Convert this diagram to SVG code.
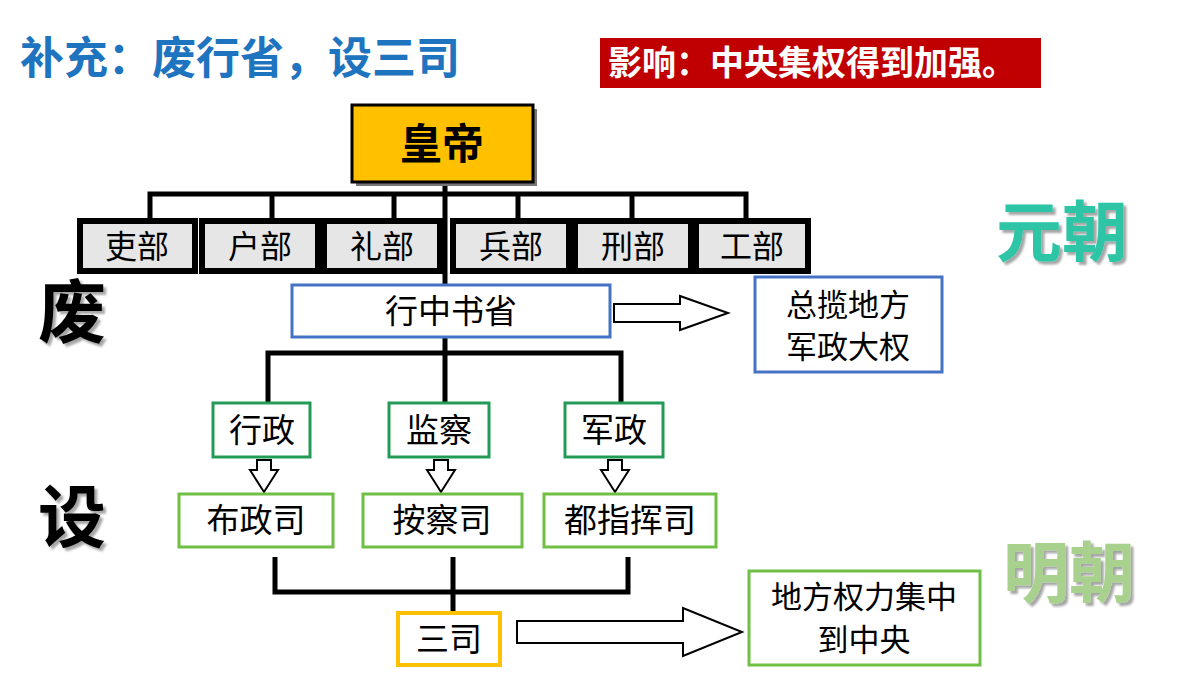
<svg xmlns="http://www.w3.org/2000/svg" width="1200" height="675" viewBox="0 0 1200 675">
<defs><filter id="sh" x="-10%" y="-10%" width="130%" height="130%"><feDropShadow dx="3" dy="3" stdDeviation="1" flood-color="#000" flood-opacity="0.35"/></filter></defs>
<style>
text{font-family:"Noto Sans CJK SC","Noto Sans",sans-serif;text-anchor:middle;fill:#000}
.dept rect{fill:#e6e6e6;stroke:#000;stroke-width:6}
.dept text{font-size:32px}
.ln{stroke:#000;stroke-width:5;fill:none}
.ha{fill:#fff;stroke:#000;stroke-width:2}
.g1 rect{fill:#fff;stroke:#239B56;stroke-width:3}
.g2 rect{fill:#fff;stroke:#70BF45;stroke-width:3}
.b rect{fill:#fff;stroke:#4472C4;stroke-width:3}
.big{font-size:33px}
.two{font-size:31px}
</style>
<rect width="1200" height="675" fill="#fff"/>
<text x="20" y="74" style="text-anchor:start;font-size:44px;font-weight:bold;fill:#1F74BF">补充：废行省，设三司</text>
<g id="impact"><rect x="600" y="38" width="441" height="50" fill="#C00000"/>
<text x="608" y="75" style="text-anchor:start;font-size:34px;font-weight:bold;fill:#fff">影响：中央集权得到加强。</text></g>
<text x="1062" y="256" filter="url(#sh)" style="font-size:66px;font-weight:bold;fill:#2EC4A6">元朝</text>
<text x="1069" y="597" filter="url(#sh)" style="font-size:66px;font-weight:bold;fill:#A9D18E">明朝</text>
<text x="72" y="337" filter="url(#sh)" style="font-size:68px;font-weight:bold">废</text>
<text x="72" y="542" filter="url(#sh)" style="font-size:68px;font-weight:bold">设</text>
<g id="connectors">
<path class="ln" d="M150 218V194H746V218M272 194V218M394 194V218M518 194V218M632 194V218M445 182V285"/>
<path class="ln" d="M445 337V403M268 403V353H621V403"/>
<path class="ln" d="M275 557V592H628V557M453 557V612"/>
<path class="ha" d="M614 304H680V296L728 313L680 330V322H614Z"/>
<path class="ha" d="M517 621H683V608L742 632L683 656V643H517Z"/>
<path class="ha" d="M257 460H271V470H278L264 492L250 470H257Z"/>
<path class="ha" d="M434 460H448V470H455L441 492L427 470H434Z"/>
<path class="ha" d="M608 460H622V470H629L615 492L601 470H608Z"/>
</g>
<g id="emperor"><rect x="356" y="109" width="181" height="77" fill="#777"/>
<rect x="352" y="105" width="181" height="77" fill="#FFC000" stroke="#000" stroke-width="3"/>
<text x="442" y="159" style="font-size:42px;font-weight:bold">皇帝</text></g>
<g id="libu" class="dept"><rect x="80" y="221" width="115" height="50"/><text x="137" y="258">吏部</text></g>
<g id="hubu" class="dept"><rect x="202" y="221" width="116" height="50"/><text x="260" y="258">户部</text></g>
<g id="li2bu" class="dept"><rect x="324" y="221" width="116" height="50"/><text x="382" y="258">礼部</text></g>
<g id="bingbu" class="dept"><rect x="453" y="221" width="116" height="50"/><text x="511" y="258">兵部</text></g>
<g id="xingbu" class="dept"><rect x="575" y="221" width="116" height="50"/><text x="633" y="258">刑部</text></g>
<g id="gongbu" class="dept"><rect x="696" y="221" width="112" height="50"/><text x="752" y="258">工部</text></g>
<g id="xzs" class="b"><rect x="292" y="285" width="318" height="52"/><text class="big" x="451" y="323">行中书省</text></g>
<g id="zonglan" class="b"><rect x="755" y="277" width="187" height="95"/><text class="two" x="848" y="316">总揽地方</text><text class="two" x="848" y="358">军政大权</text></g>
<g id="xingzheng" class="g1"><rect x="213" y="403" width="97" height="54"/><text class="big" x="262" y="442">行政</text></g>
<g id="jiancha" class="g1"><rect x="389" y="403" width="100" height="54"/><text class="big" x="439" y="442">监察</text></g>
<g id="junzheng" class="g1"><rect x="565" y="403" width="98" height="54"/><text class="big" x="614" y="442">军政</text></g>
<g id="buzhengsi" class="g2"><rect x="179" y="494" width="154" height="53"/><text class="big" x="256" y="532">布政司</text></g>
<g id="anchasi" class="g2"><rect x="363" y="494" width="159" height="53"/><text class="big" x="442" y="532">按察司</text></g>
<g id="duzhihuisi" class="g2"><rect x="544" y="494" width="172" height="53"/><text class="big" x="630" y="532">都指挥司</text></g>
<g id="sansi"><rect x="398" y="613" width="102" height="52" fill="#fff" stroke="#FFC000" stroke-width="4"/><text class="big" x="449" y="651">三司</text></g>
<g id="jizhong" class="g2"><rect x="749" y="571" width="231" height="94"/><text class="two" x="864" y="608">地方权力集中</text><text class="two" x="864" y="651">到中央</text></g>
</svg>
